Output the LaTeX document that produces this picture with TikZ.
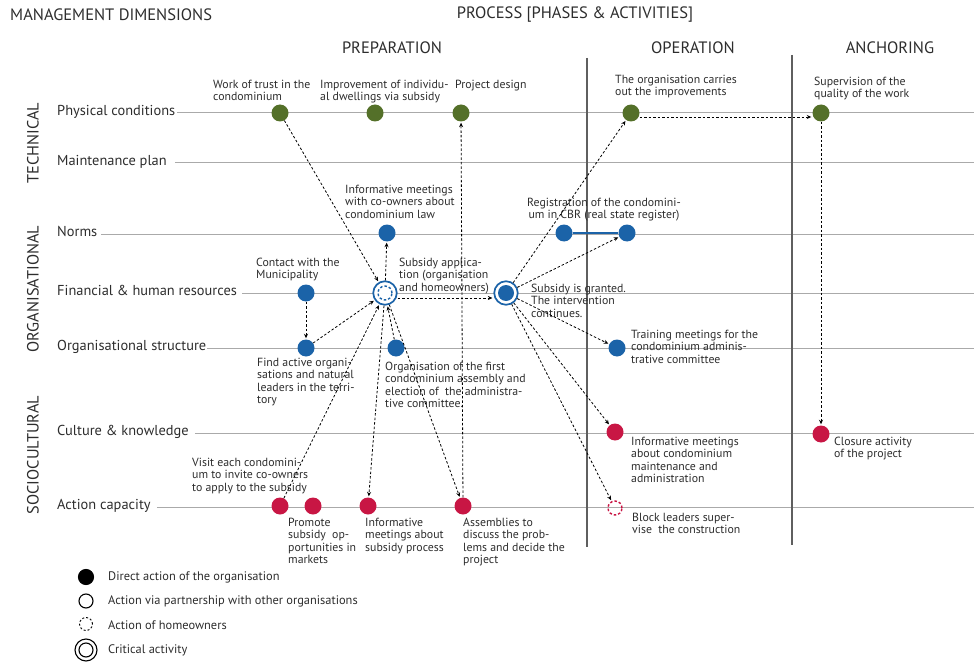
\documentclass[tikz,border=0pt]{standalone}
\usepackage{fontspec}
\setmainfont{PT Sans}
\usetikzlibrary{arrows.meta,calc}
\definecolor{LeafGreen}{RGB}{84,112,41}
\definecolor{SteelBlue}{RGB}{27,99,168}
\definecolor{Crimson}{RGB}{200,22,68}
\definecolor{InkGray}{RGB}{45,45,45}
\definecolor{RuleGray}{RGB}{170,170,170}
\definecolor{PhaseGray}{RGB}{95,95,95}

\begin{document}
\begin{tikzpicture}[x=1pt,y=-1pt,
          dim/.style={font=\fontsize{14.4}{17}\selectfont,text=InkGray,inner sep=0pt,anchor=base west},
          head/.style={font=\fontsize{16.5}{19}\selectfont,text=InkGray,inner sep=0pt},
          grp/.style={head,font=\fontsize{16.3}{19}\selectfont,rotate=90},
          lb/.style={font=\fontsize{11.8}{12.5}\selectfont,text=InkGray,inner sep=0pt,align=left,anchor=north west},
          kt/.style={lb,font=\fontsize{12.4}{14}\selectfont,anchor=west},
          row/.style={RuleGray,line width=1pt},
          phase/.style={PhaseGray,line width=1.3pt},
          dot/.style={circle,inner sep=0pt,minimum size=17pt},
          gd/.style={dot,fill=LeafGreen},
          bd/.style={dot,fill=SteelBlue},
          rd/.style={dot,fill=Crimson},
          hub/.style={circle,inner sep=0pt,minimum size=23.5pt,draw=SteelBlue,line width=1.7pt,fill=white},
          ar/.style={-{Stealth[length=4.5pt,width=4pt]},black,line width=0.8pt,dash pattern=on 2.5pt off 2pt,shorten >=1pt},
          key/.style={circle,inner sep=0pt,draw=black,line width=1.1pt,minimum size=14pt}
        ]
          \useasboundingbox (0,0) rectangle (974,663);
          \coordinate (rend) at (974,0);

          \node(hmgmt)[head,anchor=west] at (10,15) {MANAGEMENT DIMENSIONS};
          \node(hproc)[head] at (575,15) {PROCESS [PHASES \& ACTIVITIES]};
          \node(hprep)[head] at (392,48) {PREPARATION};
          \node(hoper)[head] at (693,48) {OPERATION};
          \node(hanch)[head] at (890,48) {ANCHORING};

          \node(tech)[grp] at (33,143) {TECHNICAL};
          \node(orga)[grp] at (33,289) {ORGANISATIONAL};
          \node(soci)[grp] at (33,455) {SOCIOCULTURAL};

          \node(dphys)[dim] at (57,115.5) {Physical conditions};
          \node(dmaint)[dim] at (57,165.5) {Maintenance plan};
          \node(dnorm)[dim] at (57,236.5) {Norms};
          \node(dfin)[dim] at (57,295.5) {Financial \& human resources};
          \node(dorg)[dim] at (57,350.5) {Organisational structure};
          \node(dcult)[dim] at (57,435.5) {Culture \& knowledge};
          \node(dact)[dim] at (57,509.5) {Action capacity};

          \foreach \n/\g in {dphys/2,dmaint/8,dnorm/4,dfin/5,dorg/1,dcult/6,dact/6}
            \draw[row] ($(\n.base east)+(\g,-2.5)$) -- ($(\n.base east -| rend)+(0,-2.5)$);

          \draw[phase] (587,58) -- (587,547);
          \draw[phase] (792,55) -- (792,545);

          \node(g1)[gd] at (280,113) {};
          \node(g2)[gd] at (375,113) {};
          \node(g3)[gd] at (461,113) {};
          \node(g4)[gd] at (631,113) {};
          \node(g5)[gd] at (821,113) {};
          \node(g1t)[lb] at (213,79.5) {Work of trust in the\\condominium};
          \node(g2t)[lb] at (320,79.5) {Improvement of individu-\\al dwellings via subsidy};
          \node(g3t)[lb] at (455,79.5) {Project design};
          \node(g4t)[lb] at (615,74.5) {The organisation carries\\out the improvements};
          \node(g5t)[lb] at (814,76.5) {Supervision of the\\quality of the work};

          \node(b1)[bd] at (387,233) {};
          \node(b2)[bd] at (564,233) {};
          \node(b3)[bd] at (627,233) {};
          \node(b4)[bd] at (306,293) {};
          \node(b5)[bd] at (306,348) {};
          \node(b6)[bd] at (396,348) {};
          \node(b7)[bd] at (617,348) {};
          \node(hub1)[hub] at (385,293) {};
          \node(hub1in)[circle,inner sep=0pt,minimum size=14pt,draw=SteelBlue,line width=1.4pt,dash pattern=on 2.5pt off 2pt] at (hub1) {};
          \node(hub2)[hub] at (506,293) {};
          \node(hub2in)[bd,minimum size=16pt] at (hub2) {};
          \draw[SteelBlue,line width=1.2pt] (b2) -- (b3);
          \node(b1t)[lb] at (345,184.5) {Informative meetings\\with co-owners about\\condominium law};
          \node(b23t)[lb,align=center,anchor=north] at (604,197.5) {Registration of the condomini-\\um in CBR (real state register)};
          \node(b4t)[lb] at (256,257.5) {Contact with the\\Municipality};
          \node(hub1t)[lb] at (399,257.5) {Subsidy applica-\\tion (organisation\\and homeowners)};
          \node(hub2t)[lb] at (531,283.5) {Subsidy is granted.\\The intervention\\continues.};
          \node(b5t)[lb] at (257,357.5) {Find active organi-\\sations and natural\\leaders in the terri-\\tory};
          \node(b6t)[lb] at (385,361.5) {Organisation of the first\\condominium assembly and\\election of\ \ the administra-\\tive committee.};
          \node(b7t)[lb] at (631,329.5) {Training meetings for the\\condominium adminis-\\trative committee};

          \node(r1)[rd] at (615,432) {};
          \node(r2)[rd] at (821,434) {};
          \node(r3)[rd] at (280,506) {};
          \node(r4)[rd] at (313,506) {};
          \node(r5)[rd] at (368,506) {};
          \node(r6)[rd] at (463,506) {};
          \node(r7)[circle,inner sep=0pt,minimum size=14pt,draw=Crimson,line width=1.4pt,dash pattern=on 2.5pt off 2pt] at (615,508) {};
          \node(r1t)[lb] at (631,436.5) {Informative meetings\\about condominium\\maintenance and\\administration};
          \node(r2t)[lb] at (834,436.5) {Closure activity\\of the project};
          \node(r3t)[lb] at (192,457.5) {Visit each condomini-\\um to invite co-owners\\to apply to the subsidy};
          \node(r4t)[lb] at (288,517.5) {Promote\\subsidy\ \ op-\\portunities in\\markets};
          \node(r5t)[lb] at (365,517.5) {Informative\\meetings about\\subsidy process};
          \node(r6t)[lb] at (463,517.5) {Assemblies to\\discuss the prob-\\lems and decide the\\project};
          \node(r7t)[lb] at (632,512.5) {Block leaders super-\\vise\ \ the construction};

          \draw[ar] (g1) -- (hub1);
          \draw[ar] (r6) -- (g3);
          \draw[ar] (hub1) -- (b1);
          \draw[ar] (b4) -- (b5);
          \draw[ar] (b5) -- (hub1);
          \draw[ar] (r3) -- (hub1);
          \draw[ar] (b6) -- (hub1);
          \draw[ar] (hub1) -- (r5);
          \draw[ar] (hub1) -- (r6);
          \draw[ar] ([yshift=-5pt]hub1.east) -- ([yshift=-5pt]hub2.west);
          \draw[ar] (hub2) -- (g4);
          \draw[ar] (hub2) -- (b3);
          \draw[ar] (hub2) -- (b7);
          \draw[ar] (hub2) -- (r1);
          \draw[ar] (hub2) -- (r7);
          \draw[ar] ([yshift=-4pt]g4.east) -- ([yshift=-4pt]g5.west);
          \draw[ar] (g5) -- (r2);

          \node(k1)[key,fill=black,minimum size=15pt] at (86,577) {};
          \node(k2)[key] at (86,601) {};
          \node(k3)[key,dash pattern=on 2pt off 2pt,line width=0.9pt,minimum size=13pt] at (86,624) {};
          \node(k4)[key,minimum size=22pt] at (86,650) {};
          \node(k4in)[key] at (k4) {};
          \node(k1t)[kt] at (108,577) {Direct action of the organisation};
          \node(k2t)[kt] at (108,601) {Action via partnership with other organisations};
          \node(k3t)[kt] at (108,625) {Action of homeowners};
          \node(k4t)[kt] at (108,650) {Critical activity};
        \end{tikzpicture}
\end{document}
